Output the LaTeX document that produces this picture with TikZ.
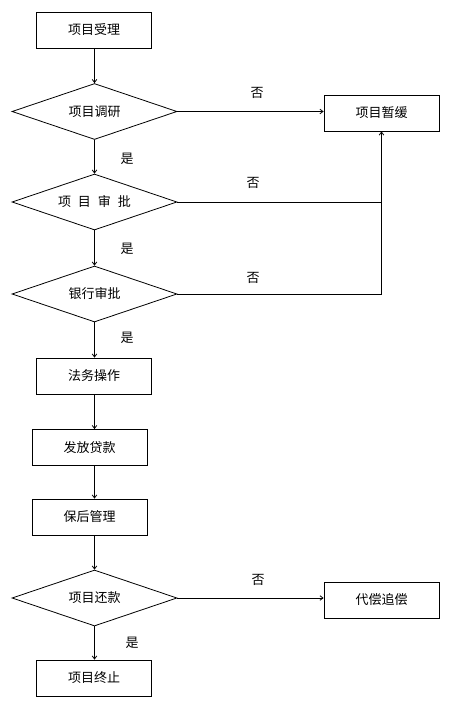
\documentclass[tikz,border=0pt]{standalone}
\usepackage{fontspec}
\newfontfamily\cjk{Noto Sans CJK SC}
\usetikzlibrary{shapes.geometric,arrows.meta}
\begin{document}
\begin{tikzpicture}[x=1pt,y=-1pt,
  font=\cjk\fontsize{13}{13}\selectfont,
  line width=0.8pt,
  box/.style={draw,rectangle,minimum width=115pt,minimum height=36pt,inner sep=0pt},
  dec/.style={draw,diamond,minimum width=165pt,minimum height=56pt,inner sep=0pt,aspect=2.95},
  arr/.style={-{Straight Barb[length=3pt,width=4.5pt]}},
  lab/.style={inner sep=0pt}]
\useasboundingbox (0,0) rectangle (452,710);
\fill[white] (0,0) rectangle (452,710);
\node[box] (r1) at (94,30) {项目受理};
\node[dec] (d1) at (94.5,111.5) {项目调研};
\node[box] (p)  at (381.5,113) {项目暂缓};
\node[dec] (d2) at (94.5,202) {项\hspace{7pt}目\hspace{7pt}审\hspace{7pt}批};
\node[dec] (d3) at (94.5,294) {银行审批};
\node[box] (r2) at (94,376) {法务操作};
\node[box] (r3) at (89.5,447.5) {发放贷款};
\node[box] (r4) at (89.5,517) {保后管理};
\node[dec] (d4) at (94.5,598) {项目还款};
\node[box] (q)  at (381.5,600) {代偿追偿};
\node[box] (r5) at (94,678) {项目终止};

\node[lab] (n1) at (257,93) {否};
\node[lab] (n2) at (253,183) {否};
\node[lab] (n3) at (253,278) {否};
\node[lab] (n4) at (258,580) {否};
\node[lab] (y1) at (127,159) {是};
\node[lab] (y2) at (127,249) {是};
\node[lab] (y3) at (127,338) {是};
\node[lab] (y4) at (132,643) {是};

\draw[arr] (r1.south -| d1.north) -- (d1.north);
\draw[arr] (d1.south) -- (d2.north);
\draw[arr] (d2.south) -- (d3.north);
\draw[arr] (d3.south) -- (d3.south |- r2.north);
\draw[arr] (d3.south |- r2.south) -- (d3.south |- r3.north);
\draw[arr] (d3.south |- r3.south) -- (d3.south |- r4.north);
\draw[arr] (d3.south |- r4.south) -- (d4.north);
\draw[arr] (d4.south) -- (d4.south |- r5.north);
\draw[arr] (d1.east) -- (d1.east -| p.west);
\draw (d2.east) -- (d2.east -| p.south);
\draw[arr] (d3.east) -| (p.south);
\draw[arr] (d4.east) -- (d4.east -| q.west);
\end{tikzpicture}
\end{document}
